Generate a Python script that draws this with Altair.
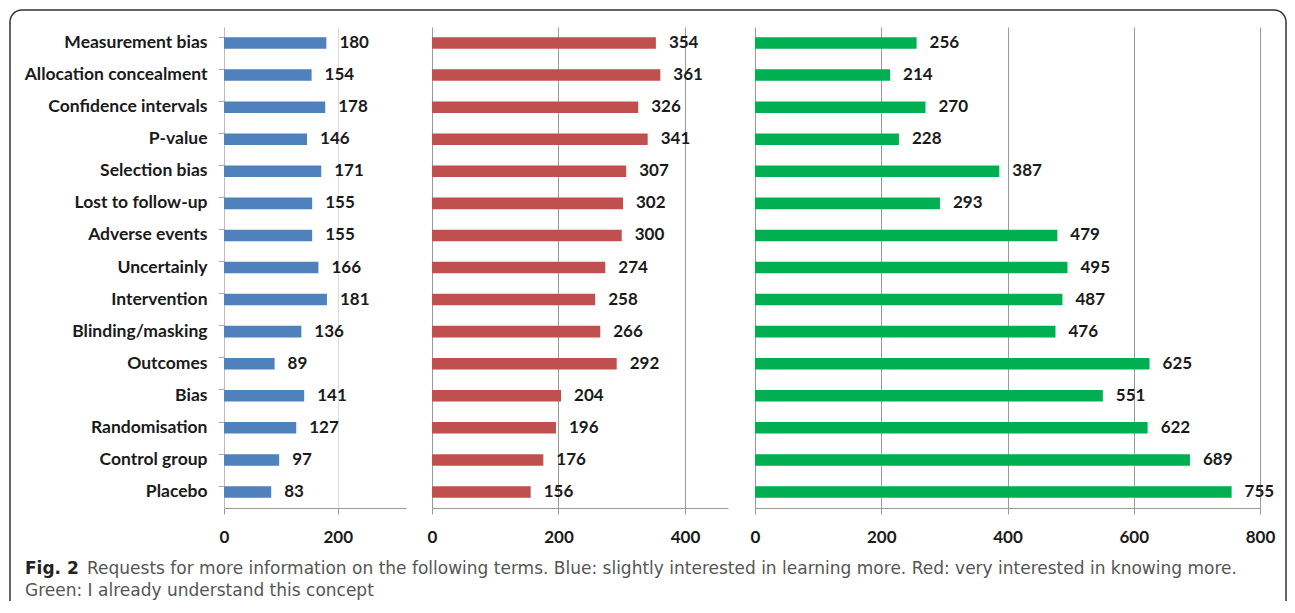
import altair as alt
import pandas as pd

terms = ["Measurement bias", "Allocation concealment", "Confidence intervals", "P-value",
         "Selection bias", "Lost to follow-up", "Adverse events", "Uncertainly",
         "Intervention", "Blinding/masking", "Outcomes", "Bias", "Randomisation",
         "Control group", "Placebo"]
slightly_interested = [180, 154, 178, 146, 171, 155, 155, 166, 181, 136, 89, 141, 127, 97, 83]
very_interested = [354, 361, 326, 341, 307, 302, 300, 274, 258, 266, 292, 204, 196, 176, 156]
already_understand = [256, 214, 270, 228, 387, 293, 479, 495, 487, 476, 625, 551, 622, 689, 755]

ticks_blue = [0, 200]
ticks_red = [0, 200, 400]
ticks_green = [0, 200, 400, 600, 800]

caption_bold = ["Fig. 2"]
caption_line1 = ["Requests for more information on the following terms. Blue: slightly interested in learning more. Red: very interested in knowing more."]
caption_line2 = ["Green: I already understand this concept"]

FONT = "Lato"
CAP_FONT = "DejaVu Sans"

y_axis = alt.Axis(title=None, labelFont=FONT, labelFontSize=17.5, labelFontWeight="bold",
                  labelColor="#1a1a1a", labelPadding=11, tickSize=6, tickColor="#aaaaaa",
                  domainColor="#bdbdbd", bandPosition=0, grid=False, labelLimit=300)


def panel(values, color, domain, rng, ticks, grid_color):
    df = pd.DataFrame({"term": terms, "value": values})
    x = alt.X("value:Q",
              scale=alt.Scale(domain=domain, range=rng, nice=False),
              axis=alt.Axis(orient="bottom", values=ticks, title=None, labelFont=FONT,
                            labelFontSize=17, labelFontWeight="bold", labelColor="#1a1a1a",
                            labelPadding=15, tickSize=6, tickColor="#999999",
                            domainColor="#999999", grid=True, gridColor=grid_color,
                            labelFlush=False, labelOverlap=False))
    y = alt.Y("term:N", sort=terms,
              scale=alt.Scale(paddingInner=0.64, paddingOuter=0.32), axis=y_axis)
    base = alt.Chart(df)
    bars = base.mark_bar(color=color).encode(x=x, y=y)
    labels = base.mark_text(align="left", baseline="middle", dx=13, font=FONT,
                            fontSize=17, fontWeight="bold", color="#1a1a1a").encode(
        x=x, y=y, text="value:Q")
    return alt.layer(bars, labels)


p1 = panel(slightly_interested, "#4F81BD", [0, 320], [0, 182], ticks_blue, "#dddddd")
p2 = panel(very_interested, "#C0504D", [0, 468], [208, 504], ticks_red, "#9a9a9a")
p3 = panel(already_understand, "#00B050", [0, 800], [531, 1036], ticks_green, "#9a9a9a")

cap_bold = alt.Chart(pd.DataFrame({"t": caption_bold})).mark_text(
    align="left", baseline="alphabetic", font=CAP_FONT, fontSize=17,
    fontWeight="bold", color="#222222").encode(
    x=alt.value(-199), y=alt.value(547), text="t:N")
cap1 = alt.Chart(pd.DataFrame({"t": caption_line1})).mark_text(
    align="left", baseline="alphabetic", font=CAP_FONT, fontSize=17,
    color="#555555").encode(x=alt.value(-137), y=alt.value(547), text="t:N")
cap2 = alt.Chart(pd.DataFrame({"t": caption_line2})).mark_text(
    align="left", baseline="alphabetic", font=CAP_FONT, fontSize=17,
    color="#555555").encode(x=alt.value(-199), y=alt.value(569), text="t:N")

border = alt.Chart(pd.DataFrame({"k": [0]})).mark_rect(
    fillOpacity=0, stroke="#333333", strokeWidth=1.5, cornerRadius=12).encode(
    x=alt.value(-214), x2=alt.value(1062), y=alt.value(-17), y2=alt.value(640))

chart = alt.layer(p1, p2, p3, cap_bold, cap1, cap2, border).resolve_scale(
    x="independent").resolve_axis(x="independent").properties(
    width=1036, height=481,
    autosize=alt.AutoSizeParams(type="none"),
    padding={"left": 216, "top": 19, "right": 27, "bottom": 93},
).configure_view(strokeWidth=0)

chart.save("out.html", embed_options={"renderer": "svg", "actions": False})
